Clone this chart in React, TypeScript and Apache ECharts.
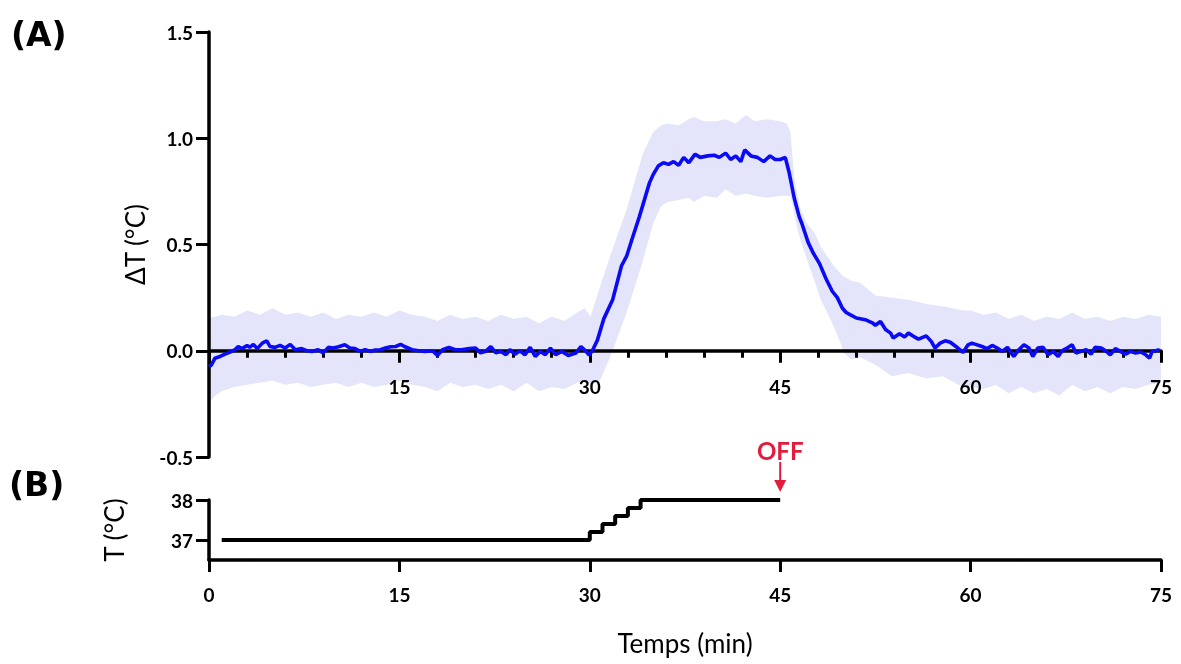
import React, { useEffect, useRef } from 'react';
import * as echarts from 'echarts';

// ---- Panel A: mean ΔT (°C) vs time (min)
const meanTime = [
  0.0, 0.2, 0.47, 0.87, 1.26, 1.66, 2.05, 2.3, 2.6, 3.0, 3.2, 3.5, 3.8, 4.2, 4.55, 4.8, 5.2, 5.6, 6.0, 6.4,
  6.8, 7.3, 7.7, 8.1, 8.6, 9.0, 9.4, 9.8, 10.2, 10.7, 11.1, 11.5, 11.9, 12.3, 12.7, 13.1, 13.5, 13.9, 14.3, 14.7,
  15.1, 15.4, 16.0, 16.5, 17.0, 17.6, 18.0, 18.4, 18.9, 19.4, 19.9, 20.5, 21.0, 21.4, 21.8, 22.2, 22.6, 23.0, 23.4, 23.7,
  24.1, 24.5, 24.9, 25.3, 25.7, 26.1, 26.5, 26.9, 27.3, 27.8, 28.3, 28.9, 29.3, 29.7, 29.95, 30.2, 30.6, 31.1, 31.8, 32.5,
  32.9, 33.3, 33.9, 34.3, 34.7, 35.0, 35.4, 35.8, 36.2, 36.6, 37.0, 37.4, 37.8, 38.3, 38.7, 39.3, 39.8, 40.2, 40.7, 41.1,
  41.5, 41.9, 42.2, 42.7, 43.2, 43.7, 44.2, 44.6, 45.0, 45.4, 45.7, 46.1, 46.5, 46.7, 47.2, 47.6, 48.1, 48.6, 49.1, 49.5,
  49.9, 50.2, 50.5, 51.0, 51.7, 52.3, 52.5, 52.9, 53.3, 53.7, 53.9, 54.4, 54.8, 55.1, 55.5, 55.9, 56.5, 56.9, 57.2, 57.6,
  58.0, 58.4, 59.0, 59.4, 59.8, 60.1, 60.4, 60.9, 61.3, 61.7, 62.1, 62.5, 62.9, 63.4, 63.8, 64.2, 64.6, 64.9, 65.3, 65.7,
  66.1, 66.5, 66.9, 67.2, 67.6, 68.0, 68.3, 68.7, 69.1, 69.5, 69.8, 70.3, 70.7, 71.0, 71.4, 71.8, 72.2, 72.6, 73.0, 73.4,
  73.8, 74.1, 74.3, 74.9
];
const meanDelta = [
  -0.075, -0.066, -0.035, -0.027, -0.016, -0.006, 0.005, 0.02, 0.01, 0.025, 0.016, 0.03, 0.01, 0.036, 0.047, 0.02, 0.016, 0.025, 0.013, 0.03,
  0.005, 0.01, 0.0, -0.003, 0.005, -0.01, 0.016, 0.013, 0.019, 0.028, 0.013, 0.01, -0.003, 0.005, -0.003, 0.003, 0.005, 0.013, 0.019, 0.02,
  0.03, 0.02, 0.005, 0.0, -0.003, 0.0, -0.022, 0.005, 0.016, 0.005, 0.005, 0.01, 0.013, -0.01, -0.003, 0.02, -0.01, -0.003, -0.019, 0.005,
  -0.016, 0.0, -0.019, 0.016, -0.027, -0.003, -0.019, 0.013, -0.019, -0.003, -0.022, -0.011, 0.02, -0.003, -0.02, 0.0, 0.05, 0.15, 0.24, 0.4,
  0.445, 0.52, 0.63, 0.71, 0.79, 0.83, 0.87, 0.885, 0.877, 0.89, 0.873, 0.91, 0.885, 0.925, 0.91, 0.917, 0.92, 0.91, 0.93, 0.9,
  0.917, 0.89, 0.945, 0.917, 0.91, 0.89, 0.917, 0.9, 0.9, 0.91, 0.84, 0.72, 0.63, 0.6, 0.51, 0.46, 0.41, 0.34, 0.28, 0.25,
  0.2, 0.18, 0.17, 0.154, 0.146, 0.13, 0.12, 0.138, 0.1, 0.083, 0.06, 0.08, 0.065, 0.083, 0.068, 0.055, 0.07, 0.044, 0.013, 0.036,
  0.047, 0.04, 0.013, -0.008, 0.028, 0.036, 0.03, 0.02, 0.01, 0.025, 0.013, -0.003, 0.016, -0.027, 0.005, 0.028, 0.013, -0.027, 0.013, 0.016,
  -0.019, -0.003, -0.027, 0.0, 0.013, 0.028, -0.011, -0.003, 0.005, -0.016, 0.016, 0.013, -0.003, -0.019, 0.01, -0.003, -0.016, -0.003, -0.011, -0.006,
  -0.019, -0.035, -0.003, 0.005
];

// ---- Panel A: spread band (upper / lower edges)
const bandTime = [
  0, 0.5, 1, 2, 3, 4, 5, 6, 7, 8, 9, 10, 11, 12, 13, 14, 15, 16, 17, 18,
  19, 20, 21, 22, 23, 24, 25, 26, 27, 28, 29, 29.6, 30.05, 30.8, 31.6, 32.9, 33.9, 34.2, 35.0, 35.6,
  36.1, 37, 37.8, 38.2, 39, 40, 40.7, 41.5, 42.3, 43, 44, 45, 45.5, 45.8, 46.1, 46.3, 46.6, 47.1, 47.7, 48.2,
  48.7, 49.2, 49.8, 50.0, 50.6, 51.3, 52.5, 53.8, 55.1, 56.5, 57.8, 59.4, 60, 61, 62, 63, 64, 65, 66, 67,
  68, 69, 70, 71, 72, 73, 74, 75
];
const bandUpper = [
  0.155, 0.16, 0.17, 0.16, 0.19, 0.17, 0.2, 0.17, 0.18, 0.16, 0.18, 0.15, 0.17, 0.16, 0.18, 0.16, 0.19, 0.17, 0.16, 0.14,
  0.17, 0.15, 0.16, 0.14, 0.17, 0.15, 0.16, 0.13, 0.16, 0.14, 0.18, 0.2, 0.16, 0.3, 0.445, 0.665, 0.87, 0.93, 1.03, 1.06,
  1.07, 1.06, 1.09, 1.1, 1.08, 1.08, 1.09, 1.07, 1.11, 1.08, 1.09, 1.08, 1.07, 1.03, 0.82, 0.75, 0.665, 0.6, 0.555, 0.49,
  0.445, 0.4, 0.36, 0.35, 0.33, 0.32, 0.26, 0.25, 0.24, 0.22, 0.21, 0.19, 0.19, 0.17, 0.18, 0.15, 0.17, 0.14, 0.16, 0.15,
  0.18, 0.15, 0.16, 0.14, 0.16, 0.15, 0.17, 0.16
];
const bandLower = [
  -0.245, -0.21, -0.19, -0.17, -0.16, -0.15, -0.14, -0.16, -0.15, -0.17, -0.16, -0.15, -0.17, -0.15, -0.17, -0.16, -0.14, -0.16, -0.17, -0.19,
  -0.15, -0.17, -0.16, -0.18, -0.16, -0.19, -0.15, -0.19, -0.17, -0.18, -0.15, -0.14, -0.16, -0.14, -0.03, 0.18, 0.37, 0.43, 0.6, 0.68,
  0.7, 0.71, 0.72, 0.7, 0.73, 0.72, 0.76, 0.73, 0.74, 0.73, 0.72, 0.73, 0.73, 0.73, 0.65, 0.586, 0.52, 0.43, 0.33, 0.24,
  0.18, 0.115, 0.03, -0.01, -0.04, -0.03, -0.066, -0.12, -0.105, -0.13, -0.12, -0.17, -0.17, -0.18, -0.16, -0.2, -0.17, -0.2, -0.18, -0.21,
  -0.16, -0.19, -0.17, -0.2, -0.17, -0.18, -0.16, -0.15
];

// ---- Panel B: set temperature (°C), steps
const stepTime = [1, 30, 31, 32, 33, 34, 45];
const stepTemp = [37, 37.2, 37.4, 37.6, 37.8, 38, 38];

const xTicks = { min: 0, max: 75, interval: 15 };
const yTicksA = { min: -0.5, max: 1.5, interval: 0.5 };
const yTicksB = [37, 38];

export default function App() {
  const ref = useRef<HTMLDivElement>(null);
  useEffect(() => {
    const chart = echarts.init(ref.current!, null, { renderer: 'svg' });
    const font = 'Lato, "Open Sans", sans-serif';
    const black = '#000';
    const red = '#e31b3c';
    const tickLabel = { color: black, fontFamily: font, fontWeight: 'bold' as const, fontSize: 19 };
    const axisLine = { show: true, lineStyle: { color: black, width: 3.5 } };
    const axisTick = { show: true, length: 12, lineStyle: { color: black, width: 3 } };
    const nameStyle = { color: black, fontFamily: font, fontSize: 26 };

    // panel A plot area; zero line of ΔT sits at 3/4 of its height
    const gA = { left: 209, right: 20, top: 32, height: 425 };
    const zeroFrac = (yTicksA.max - 0) / (yTicksA.max - yTicksA.min);

    chart.setOption({
      animation: false,
      grid: [
        gA,
        { left: 209, right: 20, top: 500, height: 60 },
        { left: 209, right: 20, top: gA.top, height: gA.height * zeroFrac }
      ],
      xAxis: [
        { type: 'value', gridIndex: 0, ...xTicks, show: false },
        {
          type: 'value', gridIndex: 1, ...xTicks, z: 3,
          axisLine: { ...axisLine, onZero: false },
          axisTick,
          axisLabel: { ...tickLabel, margin: 25 },
          splitLine: { show: false },
          name: 'Temps (min)', nameLocation: 'middle', nameGap: 70,
          nameTextStyle: nameStyle
        },
        {
          type: 'value', gridIndex: 2, ...xTicks, z: 3,
          axisLine: { ...axisLine, onZero: false },
          axisTick,
          minorTick: { show: true, splitNumber: 5, length: 7, lineStyle: { color: black, width: 3 } },
          axisLabel: { ...tickLabel, margin: 26, formatter: (v: number) => (v === 0 ? '' : String(v)) },
          splitLine: { show: false }, minorSplitLine: { show: false }
        }
      ],
      yAxis: [
        {
          type: 'value', gridIndex: 0, ...yTicksA, z: 3,
          axisLine: { ...axisLine, onZero: false },
          axisTick: { ...axisTick, length: 13 },
          axisLabel: { ...tickLabel, margin: 16, formatter: (v: number) => v.toFixed(1) },
          splitLine: { show: false },
          name: 'ΔT (°C)', nameLocation: 'middle', nameGap: 48,
          nameTextStyle: nameStyle
        },
        {
          type: 'value', gridIndex: 1, min: 36.5, max: 38, z: 3,
          axisLine: { ...axisLine, onZero: false },
          axisTick: { ...axisTick, length: 13, customValues: yTicksB },
          axisLabel: { ...tickLabel, margin: 16, customValues: yTicksB },
          splitLine: { show: false },
          name: 'T (°C)', nameLocation: 'middle', nameGap: 82,
          nameTextStyle: nameStyle
        },
        { type: 'value', gridIndex: 2, min: 0, max: 1, show: false }
      ],
      series: [
        {
          type: 'custom', name: 'band', xAxisIndex: 0, yAxisIndex: 0, z: 1, silent: true,
          data: [[bandTime[0], bandLower[0]]],
          renderItem: (_params: any, api: any) => {
            const pts: number[][] = [];
            for (let i = 0; i < bandTime.length; i++) pts.push(api.coord([bandTime[i], bandUpper[i]]));
            for (let i = bandTime.length - 1; i >= 0; i--) pts.push(api.coord([bandTime[i], bandLower[i]]));
            return { type: 'polygon', shape: { points: pts }, style: { fill: '#e4e4fa' } };
          }
        },
        {
          type: 'line', name: 'mean', xAxisIndex: 0, yAxisIndex: 0, z: 5,
          showSymbol: false, symbol: 'none',
          lineStyle: { color: '#0a0af5', width: 3.6 },
          data: meanTime.map((t, i) => [t, meanDelta[i]])
        },
        {
          type: 'line', name: 'temp', xAxisIndex: 1, yAxisIndex: 1, z: 5,
          step: 'end', showSymbol: false, symbol: 'none',
          lineStyle: { color: black, width: 4 },
          data: stepTime.map((t, i) => [t, stepTemp[i]])
        }
      ]
    });

    const off = chart.convertToPixel({ xAxisIndex: 1, yAxisIndex: 1 }, [stepTime[stepTime.length - 1], stepTemp[stepTemp.length - 1]]) as number[];
    const ox = off[0];
    const tipY = off[1] - 8;
    chart.setOption({
      graphic: [
        { type: 'text', left: 11, top: 18, style: { text: '(A)', fontFamily: '"DejaVu Sans", sans-serif', fontWeight: 'bold', fontSize: 33, fill: black } },
        { type: 'text', left: 9, top: 468, style: { text: '(B)', fontFamily: '"DejaVu Sans", sans-serif', fontWeight: 'bold', fontSize: 33, fill: black } },
        { type: 'text', x: ox, y: tipY - 42, style: { text: 'OFF', fontFamily: font, fontWeight: 'bold', fontSize: 24, fill: red, align: 'center', verticalAlign: 'middle' } },
        { type: 'line', shape: { x1: ox, y1: tipY - 30, x2: ox, y2: tipY - 10 }, style: { stroke: red, lineWidth: 2 } },
        { type: 'polygon', shape: { points: [[ox - 6, tipY - 12], [ox + 6, tipY - 12], [ox, tipY]] }, style: { fill: red } }
      ]
    });

    return () => chart.dispose();
  }, []);
  return <div ref={ref} style={{ position: 'fixed', left: 0, top: 0, width: 1181, height: 664 }} />;
}
